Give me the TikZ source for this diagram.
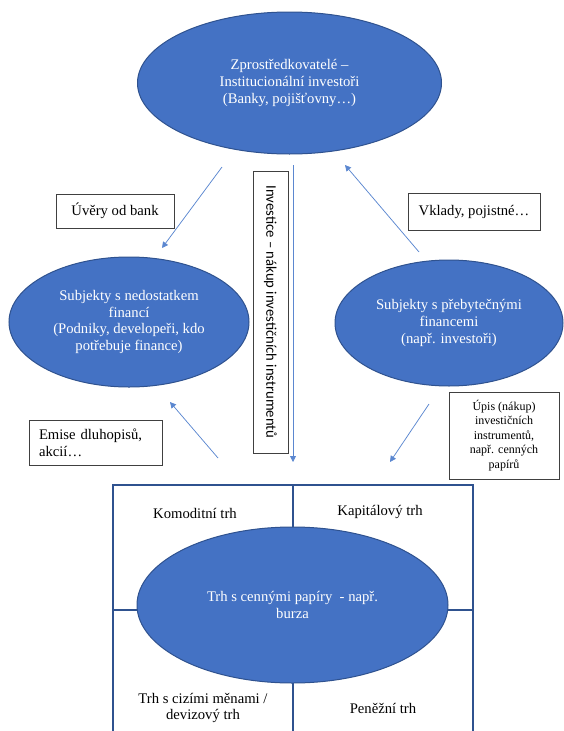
\documentclass[tikz,border=0pt]{standalone}
\usepackage{fontspec}
\setmainfont{Liberation Serif}
\newfontfamily\calibri{Carlito}
\usetikzlibrary{shapes.geometric,arrows.meta}
\definecolor{ellfill}{HTML}{4472C4}
\definecolor{elldraw}{HTML}{2F528F}
\definecolor{arrowc}{HTML}{5B87D0}
\definecolor{boxc}{HTML}{404040}
\begin{document}
\begin{tikzpicture}[x=1pt,y=-1pt,
  ell/.style={ellipse, fill=ellfill, draw=elldraw, line width=1pt, inner sep=0pt, text=white, align=center, font=\fontsize{14.67pt}{16.9pt}\selectfont},
  lbl/.style={draw=boxc, line width=0.6pt, fill=white, inner sep=0pt, align=center, font=\fontsize{14.67pt}{16.9pt}\selectfont},
  flow/.style={draw=arrowc, line width=0.75pt, -{Triangle[width=6pt,length=6pt]}},
  txt/.style={align=center, inner sep=0pt, font=\fontsize{14.67pt}{16.9pt}\selectfont},
  gridline/.style={draw=elldraw, line width=1.3pt}
]
\useasboundingbox (0,0) rectangle (564,731);

% bottom grid
\draw[gridline] (113,731) -- (113,485) -- (473,485) -- (473,731);
\draw[gridline] (293,485) -- (293,731);
\draw[gridline] (113,610) -- (473,610);

% ellipses
\node[ell, minimum width=304pt, minimum height=142pt] (top) at (289.5,83)
  {Zprostředkovatelé –\\Institucionální investoři\\(Banky, pojišťovny…)};
\node[ell, minimum width=240pt, minimum height=130pt] (left) at (129,322)
  {Subjekty s nedostatkem\\financí\\(Podniky, developeři, kdo\\potřebuje finance)};
\node[ell, minimum width=228pt, minimum height=126pt] (right) at (449,323)
  {Subjekty s přebytečnými\\financemi\\(např. investoři)};
\node[ell, minimum width=311pt, minimum height=156pt] (burza) at (292.5,605)
  {Trh s cennými papíry~~- např.\\burza};

% label boxes
\node[lbl, minimum width=118pt, minimum height=34pt] (uvery) at (115,211) {Úvěry od bank};
\node[lbl, minimum width=132pt, minimum height=37pt] (vklady) at (474,211.5) {Vklady, pojistné…};
\node[lbl, minimum width=133pt, minimum height=45pt, text width=113pt, inner xsep=10pt, align=left] (emise) at (95.5,442.5) {Emise dluhopisů,\\akcií…};
\node[lbl, minimum width=110pt, minimum height=87pt, font=\fontsize{12pt}{14.5pt}\selectfont] (upis) at (504,435.5)
  {Úpis (nákup)\\investičních\\instrumentů,\\např. cenných\\papírů};
\node[lbl, rotate=-90, minimum width=282pt, minimum height=35pt, font=\calibri\fontsize{14.67pt}{16.9pt}\selectfont] (invest) at (270.5,312)
  {Investice – nákup investičních instrumentů};

% market labels
\node[txt] (komod) at (195,513) {Komoditní trh};
\node[txt] (kapit) at (380,512) {Kapitálový trh};
\node[txt] (deviz) at (203,708) {Trh s cizími měnami /\\devizový trh};
\node[txt] (penez) at (383,708) {Peněžní trh};

% arrows
\coordinate (a1s) at (222,167); \coordinate (a1e) at (162,248);
\coordinate (a2s) at (419,252); \coordinate (a2e) at (345,165);
\coordinate (a3s) at (293,165); \coordinate (a3e) at (293,462);
\coordinate (a4s) at (218,458); \coordinate (a4e) at (170,402);
\coordinate (a5s) at (429,404); \coordinate (a5e) at (390,462);
\draw[flow] (a1s) -- (a1e);
\draw[flow] (a2s) -- (a2e);
\draw[flow] (a3s) -- (a3e);
\draw[flow] (a4s) -- (a4e);
\draw[flow] (a5s) -- (a5e);
\end{tikzpicture}
\end{document}
